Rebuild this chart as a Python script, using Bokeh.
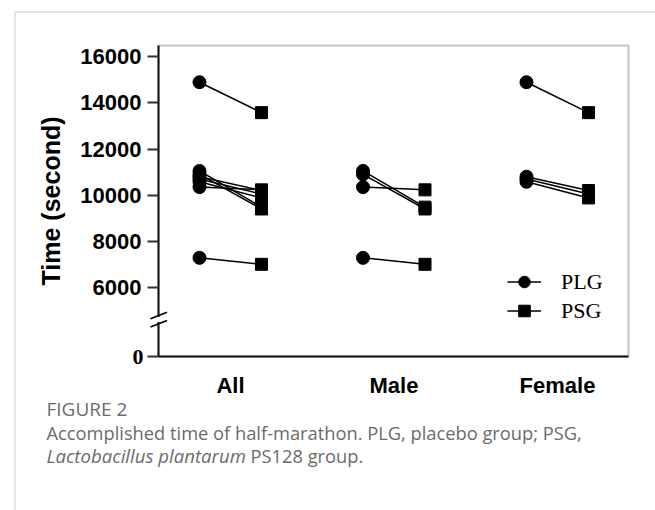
from bokeh.plotting import figure
from bokeh.models import (FixedTicker, Label, Arrow, Legend, LegendItem, Range1d, LinearAxis,
                          BoxAnnotation)
from bokeh.embed import file_html
from bokeh.resources import INLINE

# ---------------- data ----------------
groups = ["All", "Male", "Female"]
male_plg = [11050, 10900, 10350, 7280]
male_psg = [9480, 9400, 10230, 7000]
female_plg = [14900, 10800, 10700, 10580]
female_psg = [13580, 10200, 10050, 9880]
all_plg = male_plg + female_plg
all_psg = male_psg + female_psg
y_ticks = [6000, 8000, 10000, 12000, 14000, 16000]
zero_tick = "0"
caption_title = "FIGURE 2"
caption_line1 = "Accomplished time of half-marathon. PLG, placebo group; PSG,"
caption_italic = "Lactobacillus plantarum"
caption_rest = "PS128 group."

# ---------------- layout helpers (page pixels -> data) ----------------
W, H = 655, 510
ZERO_POS = 3000                 # where the broken axis draws 0
FRAME_L, FRAME_R, FRAME_T, FRAME_B = 158, 628, 45, 356
PX_PER_X = 163.5
PX_PER_Y = 46.1 / 2000.0
OFF = 31 / PX_PER_X


def X(px):
    return 1 + (px - 230) / PX_PER_X


def Y(py):
    return ZERO_POS + (FRAME_B - py) / PX_PER_Y


group_values = {"All": (all_plg, all_psg), "Male": (male_plg, male_psg), "Female": (female_plg, female_psg)}

xs, ys, cx, cy, sx, sy = [], [], [], [], [], []
for gi, g in enumerate(groups):
    plg, psg = group_values[g]
    c = gi + 1
    for a, b in zip(plg, psg):
        xs.append([c - OFF, c + OFF])
        ys.append([a, b])
        cx.append(c - OFF); cy.append(a)
        sx.append(c + OFF); sy.append(b)

p = figure(width=W, height=H, min_border=0,
           x_range=Range1d(X(0), X(W)), y_range=Range1d(Y(H), Y(0)),
           x_axis_location=None, y_axis_location=None,
           output_backend="svg", toolbar_location=None)

p.grid.visible = False
p.background_fill_color = "white"
p.border_fill_color = "white"
p.outline_line_color = None

# chart box (top and right edges)
p.add_layout(BoxAnnotation(left=X(FRAME_L), right=X(FRAME_R), top=Y(FRAME_T), bottom=Y(FRAME_B),
                           fill_alpha=0, line_color="#3a3a3a", line_width=2))

lines = p.multi_line(xs=xs, ys=ys, line_color="black", line_width=1.5)
circ = p.scatter(x=cx, y=cy, marker="circle", size=13, fill_color="black", line_color="black")
sq = p.scatter(x=sx, y=sy, marker="square", size=12, fill_color="black", line_color="black")

# axes
xa = LinearAxis(fixed_location=ZERO_POS, bounds=(X(FRAME_L), X(FRAME_R)))
xa.ticker = FixedTicker(ticks=[1, 2, 3])
xa.major_label_overrides = {1: groups[0], 2: groups[1], 3: groups[2]}
xa.major_tick_line_color = None
xa.minor_tick_line_color = None
xa.axis_line_width = 2
xa.axis_line_color = "black"
xa.major_label_standoff = 10
xa.major_label_text_font = "Liberation Sans"
xa.major_label_text_font_style = "bold"
xa.major_label_text_font_size = "22px"
xa.major_label_text_color = "black"
p.add_layout(xa, "below")

ya = LinearAxis(fixed_location=X(FRAME_L), bounds=(ZERO_POS, Y(FRAME_T)))
ya.ticker = FixedTicker(ticks=[ZERO_POS] + y_ticks)
ya.major_label_overrides = {ZERO_POS: ""}
ya.minor_tick_line_color = None
ya.major_tick_out = 11
ya.major_tick_in = 0
ya.major_tick_line_width = 2
ya.major_tick_line_color = "#333333"
ya.axis_line_width = 2
ya.axis_line_color = "black"
ya.major_label_standoff = 6
ya.major_label_text_font = "Liberation Sans"
ya.major_label_text_font_style = "bold"
ya.major_label_text_font_size = "22px"
ya.major_label_text_color = "black"
ya.axis_label = "Time (second)"
ya.axis_label_text_font = "Liberation Sans"
ya.axis_label_text_font_style = "bold"
ya.axis_label_text_font_size = "25px"
ya.axis_label_text_color = "black"
ya.axis_label_standoff = 12
p.add_layout(ya, "left")

# "0" label in serif bold
p.add_layout(Label(x=X(143), y=ZERO_POS, text=zero_tick, text_align="right", text_baseline="middle",
                   text_font="Liberation Serif", text_font_style="bold", text_font_size="22px",
                   text_color="black"))

# axis break marks
p.add_layout(Arrow(end=None, x_start=X(FRAME_L), y_start=Y(316.5), x_end=X(FRAME_L), y_end=Y(321.5),
                   line_color="white", line_width=3))
for yc in (315.0, 323.3):
    p.add_layout(Arrow(end=None, x_start=X(150), y_start=Y(yc + 3.2), x_end=X(166.5), y_end=Y(yc - 3.2),
                       line_color="black", line_width=1.6))

# page frame lines
p.add_layout(Arrow(end=None, x_start=X(14.5), y_start=Y(11.5), x_end=X(14.5), y_end=Y(H),
                   line_color="#c8c8c8", line_width=1))
p.add_layout(Arrow(end=None, x_start=X(14.5), y_start=Y(11.5), x_end=X(W), y_end=Y(11.5),
                   line_color="#c8c8c8", line_width=1))

# legend
legend = Legend(items=[LegendItem(label="PLG", renderers=[lines, circ]),
                       LegendItem(label="PSG", renderers=[lines, sq])],
                location=(507, H - 325), padding=0, margin=0, border_line_color=None, background_fill_alpha=0,
                glyph_width=34, glyph_height=29, label_height=29, label_standoff=20, spacing=0,
                label_text_font="Liberation Serif", label_text_font_size="22px", label_text_color="black")
p.add_layout(legend)

# caption
cap_color = "#6b6b6b"
p.add_layout(Label(x=X(46), y=Y(408), text=caption_title, text_baseline="middle", text_font="Open Sans",
                   text_font_size="19px", text_color=cap_color))
p.add_layout(Label(x=X(46), y=Y(432), text=caption_line1, text_baseline="middle", text_font="Open Sans",
                   text_font_size="18.3px", text_color=cap_color))
p.add_layout(Label(x=X(46), y=Y(455), text=caption_italic, text_baseline="middle", text_font="Open Sans",
                   text_font_style="italic", text_font_size="18.6px", text_color=cap_color))
p.add_layout(Label(x=X(250), y=Y(455), text=caption_rest, text_baseline="middle", text_font="Open Sans",
                   text_font_size="18.3px", text_color=cap_color))

open("out.html", "w").write(file_html(p, INLINE))
